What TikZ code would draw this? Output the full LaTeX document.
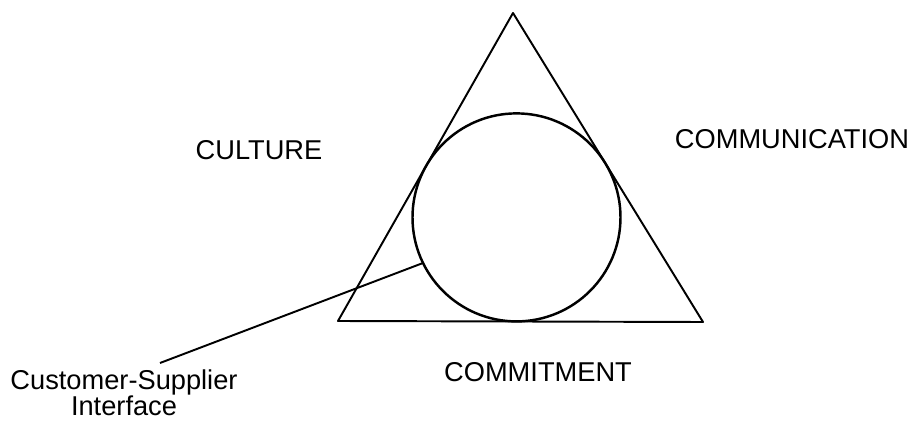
\documentclass[tikz,border=0pt]{standalone}
\usepackage{fontspec}
\setmainfont{Liberation Sans}
\usetikzlibrary{calc}

\begin{document}
\begin{tikzpicture}[x=0.2mm, y=-0.2mm, line width=1.1pt,
    tagtext/.style={font=\fontsize{15.5}{14.5}\selectfont, inner sep=0pt}]
    \useasboundingbox (0,0) rectangle (910,425);

    \coordinate (T) at (513,13);
    \coordinate (L) at (338,321);
    \coordinate (R) at (703,322);

    % 绘制三角形
    \draw[line join=round] (T) -- (L) -- (R) -- cycle;

    % 绘制内切圆
    \node[draw, circle, line width=1.4pt, minimum size=41.6mm, inner sep=0pt, outer sep=0pt] (ring) at (516.5,217.4) {};

    % 标注文字
    \node[tagtext] (culture) at (259,150) {CULTURE};
    \node[tagtext] (comm) at (792,139) {COMMUNICATION};
    \node[tagtext] (commit) at (538,372) {COMMITMENT};
    \node[tagtext, align=center] (csi) at (124,393) {Customer-Supplier\\Interface};

    % 绘制引线
    \coordinate (lead) at (160,363);
    \draw (ring.206) -- (lead);
\end{tikzpicture}
\end{document}
